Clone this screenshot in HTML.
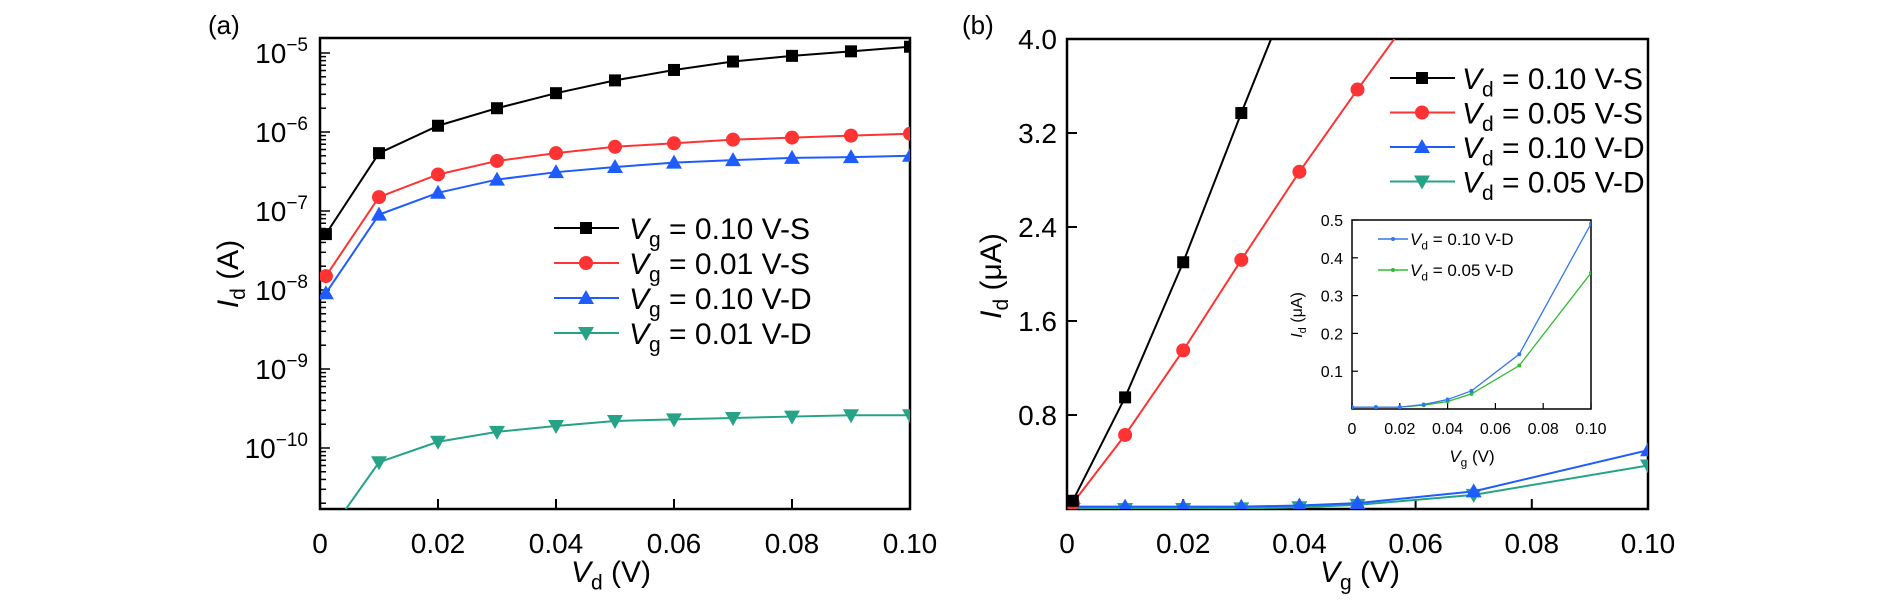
<!DOCTYPE html>
<html><head><meta charset="utf-8"><style>
body{margin:0;background:#fff;}
svg{display:block;font-family:"Liberation Sans",sans-serif;}
text{fill:#000;}
</style></head><body>
<svg id="fig" width="1890" height="601" viewBox="0 0 1890 601" xmlns="http://www.w3.org/2000/svg">
<defs>
<clipPath id="clipA"><rect x="320" y="38" width="590" height="471"/></clipPath>
<clipPath id="clipB"><rect x="1067" y="39" width="581" height="470"/></clipPath>
<clipPath id="clipI"><rect x="1352" y="220" width="239" height="189"/></clipPath>
</defs>
<g id="gA"></g>
<g id="gB"></g>
<g id="gI"></g>
</svg>
<script>
// Panel (a) data
const aX = [0.001,0.01,0.02,0.03,0.04,0.05,0.06,0.07,0.08,0.09,0.10];
const aBlackS = [5.1e-8,5.4e-7,1.2e-6,2.0e-6,3.1e-6,4.5e-6,6.1e-6,7.8e-6,9.2e-6,1.05e-5,1.2e-5];
const aRedS = [1.5e-8,1.5e-7,2.9e-7,4.3e-7,5.4e-7,6.5e-7,7.2e-7,8.0e-7,8.5e-7,9.0e-7,9.5e-7];
const aBlueD = [9.1e-9,9e-8,1.7e-7,2.5e-7,3.1e-7,3.6e-7,4.1e-7,4.4e-7,4.7e-7,4.8e-7,5.0e-7];
const aGreenD = [7.4e-12,6.6e-11,1.2e-10,1.6e-10,1.9e-10,2.2e-10,2.3e-10,2.4e-10,2.5e-10,2.6e-10,2.6e-10];
const aXTicks = [0,0.02,0.04,0.06,0.08,0.10];
const aXTickLabels = ["0","0.02","0.04","0.06","0.08","0.10"];
const aYExps = [-5,-6,-7,-8,-9,-10];
// Panel (b) data
const bX = [0.001,0.01,0.02,0.03,0.04];
const bBlackS = [0.07,0.95,2.1,3.37,4.6];
const bXRed = [0.001,0.01,0.02,0.03,0.04,0.05,0.06];
const bRedS = [0.05,0.63,1.35,2.12,2.87,3.57,4.25];
const bXD = [0.001,0.01,0.02,0.03,0.04,0.05,0.07,0.10];
const bBlueD = [0.02,0.02,0.02,0.02,0.03,0.05,0.15,0.5];
const bGreenD = [0.0,0.0,0.0,0.005,0.015,0.035,0.12,0.37];
const bXTicks = [0,0.02,0.04,0.06,0.08,0.10];
const bXTickLabels = ["0","0.02","0.04","0.06","0.08","0.10"];
const bYTicks = [0.8,1.6,2.4,3.2,4.0];
const bYTickLabels = ["0.8","1.6","2.4","3.2","4.0"];
// Inset data
const iX = [0,0.01,0.02,0.03,0.04,0.05,0.07,0.10];
const iBlue = [0.005,0.005,0.005,0.012,0.025,0.048,0.145,0.49];
const iGreen = [0.005,0.005,0.005,0.01,0.02,0.04,0.115,0.36];
const iXTicks = [0,0.02,0.04,0.06,0.08,0.10];
const iXTickLabels = ["0","0.02","0.04","0.06","0.08","0.10"];
const iYTicks = [0.1,0.2,0.3,0.4,0.5];
const iYTickLabels = ["0.1","0.2","0.3","0.4","0.5"];

const NS="http://www.w3.org/2000/svg";
function mk(tag, attrs, parent){const e=document.createElementNS(NS,tag);for(const k in attrs)e.setAttribute(k,attrs[k]);parent.appendChild(e);return e;}

const BLACK="#000", RED="#ff3333", BLUE="#1f5cff", GREEN="#26a387";

function marker(g, type, x, y, color, s){
  let m;
  if(type==="sq"){m=mk("rect",{x:x-s,y:y-s,width:2*s,height:2*s,fill:color},g);}
  else if(type==="ci"){m=mk("circle",{cx:x,cy:y,r:s+1,fill:color},g);}
  else if(type==="up"){m=mk("polygon",{points:`${x},${y-s-2} ${x+s+2},${y+s} ${x-s-2},${y+s}`,fill:color},g);}
  else if(type==="dn"){m=mk("polygon",{points:`${x},${y+s+2} ${x+s+2},${y-s} ${x-s-2},${y-s}`,fill:color},g);}
  else {m=mk("circle",{cx:x,cy:y,r:s,fill:color},g);}
  
  
  return m;
}
function series(g, xs, ys, sx, sy, color, type, s, lw, clip, name){
  const sg=mk("g",{"clip-path":`url(#${clip})`},g);
  
  
  const pts=xs.map((x,i)=>`${sx(x)},${sy(ys[i])}`).join(" ");
  const pl=mk("polyline",{points:pts,fill:"none",stroke:color,"stroke-width":lw},sg);
  
  
  xs.forEach((x,i)=>marker(sg,type,sx(x),sy(ys[i]),color,s));
}
function txt(g, x, y, str, size, anchor, name){
  const t=mk("text",{x:x,y:y,"font-size":size,"text-anchor":anchor||"start"},g);
  t.textContent=str;
  
  
  return t;
}
function richLabel(g,x,y,main,sub,rest,size,anchor,name){
  const t=mk("text",{x:x,y:y,"font-size":size,"text-anchor":anchor||"start"},g);
  
  
  const a=mk("tspan",{"font-style":"italic"},t);a.textContent=main;
  const b=mk("tspan",{"font-size":size*0.7,dy:size*0.25},t);b.textContent=sub;
  const c=mk("tspan",{dy:-size*0.25},t);c.textContent=rest;
  return t;
}

// ---------- Panel A ----------
const gA=document.getElementById("gA");
const aL=320,aR=910,aT=38,aB=509;
const axA=x=>aL+(x-0)/0.10*(aR-aL);
const LOG_TOP=-5+(53-aT)/79, LOG_BOT=-5-(aB-53)/79;
const ayA=v=>aT+(LOG_TOP-Math.log10(v))/(LOG_TOP-LOG_BOT)*(aB-aT);
txt(gA,208,34,"(a)",26,"start","panel-label-a");
const boxA=mk("rect",{x:aL,y:aT,width:aR-aL,height:aB-aT,fill:"none",stroke:"#000","stroke-width":2.5},gA);

aXTicks.forEach((t,i)=>{
  const x=axA(t);
  mk("line",{x1:x,y1:aB,x2:x,y2:aB-10,stroke:"#000","stroke-width":2},gA);
  txt(gA,x,553,aXTickLabels[i],28,"middle","x-tick-label-a");
});
for(let e=-11;e<=-5;e++){
  for(let m=1;m<10;m++){
    const v=m*Math.pow(10,e);const y=ayA(v);
    if(y<aT-0.5||y>aB+0.5)continue;
    mk("line",{x1:aL,y1:y,x2:aL+(m===1?10:6),y2:y,stroke:"#000","stroke-width":1.5},gA);
  }
}
aYExps.forEach(e=>{
  const y=ayA(Math.pow(10,e));
  const t=mk("text",{x:308,y:y+10,"font-size":28,"text-anchor":"end"},gA);
  
  const a=mk("tspan",{},t);a.textContent="10";
  const b=mk("tspan",{"font-size":19,dy:-12},t);b.textContent="\u2212"+(-e);
});
series(gA,aX,aGreenD,axA,ayA,GREEN,"dn",6,2,"clipA","series-vg001-d");
series(gA,aX,aBlueD,axA,ayA,BLUE,"up",6,2,"clipA","series-vg010-d");
series(gA,aX,aRedS,axA,ayA,RED,"ci",6,2,"clipA","series-vg001-s");
series(gA,aX,aBlackS,axA,ayA,BLACK,"sq",6,2,"clipA","series-vg010-s");
const ylA=mk("text",{x:0,y:0,"font-size":30,"text-anchor":"middle",transform:"translate(238,274) rotate(-90)"},gA);

{const a=mk("tspan",{"font-style":"italic"},ylA);a.textContent="I";const b=mk("tspan",{"font-size":21,dy:7},ylA);b.textContent="d";const c=mk("tspan",{dy:-7},ylA);c.textContent=" (A)";}
richLabel(gA,611,582,"V","d"," (V)",30,"middle","x-axis-title-a");
const legA=mk("g",{},gA);
const legAItems=[["0.10 V-S",BLACK,"sq"],["0.01 V-S",RED,"ci"],["0.10 V-D",BLUE,"up"],["0.01 V-D",GREEN,"dn"]];
legAItems.forEach((it,i)=>{
  const y=228+i*35;
  const eg=mk("g",{},legA);
  mk("line",{x1:554,y1:y,x2:619,y2:y,stroke:it[1],"stroke-width":2},eg);
  marker(eg,it[2],586,y,it[1],6);
  richLabel(eg,629,y+11,"V","g"," = "+it[0],30,"start","legend-text");
});

// ---------- Panel B ----------
const gB=document.getElementById("gB");
const bL=1067,bR=1648,bT=39,bB=509;
const axB=x=>bL+x/0.10*(bR-bL);
const ayB=v=>bB-v/4.0*(bB-bT);
txt(gB,962,34,"(b)",26,"start","panel-label-b");
const boxB=mk("rect",{x:bL,y:bT,width:bR-bL,height:bB-bT,fill:"none",stroke:"#000","stroke-width":2.5},gB);

bXTicks.forEach((t,i)=>{
  const x=axB(t);
  mk("line",{x1:x,y1:bB,x2:x,y2:bB-10,stroke:"#000","stroke-width":2},gB);
  txt(gB,x,553,bXTickLabels[i],28,"middle","x-tick-label-b");
});
bYTicks.forEach((t,i)=>{
  const y=ayB(t);
  mk("line",{x1:bL,y1:y,x2:bL+10,y2:y,stroke:"#000","stroke-width":2},gB);
  txt(gB,1057,y+10,bYTickLabels[i],28,"end","y-tick-label-b");
});
series(gB,bXD,bGreenD,axB,ayB,GREEN,"dn",6,2,"clipB","series-vd005-d");
series(gB,bXD,bBlueD,axB,ayB,BLUE,"up",6,2,"clipB","series-vd010-d");
series(gB,bXRed,bRedS,axB,ayB,RED,"ci",6,2,"clipB","series-vd005-s");
series(gB,bX,bBlackS,axB,ayB,BLACK,"sq",6,2,"clipB","series-vd010-s");
const ylB=mk("text",{x:0,y:0,"font-size":30,"text-anchor":"middle",transform:"translate(1001,276) rotate(-90)"},gB);

{const a=mk("tspan",{"font-style":"italic"},ylB);a.textContent="I";const b=mk("tspan",{"font-size":21,dy:7},ylB);b.textContent="d";const c=mk("tspan",{dy:-7},ylB);c.textContent=" (\u03bcA)";}
richLabel(gB,1360,582,"V","g"," (V)",30,"middle","x-axis-title-b");
const legB=mk("g",{},gB);
const legBItems=[["0.10 V-S",BLACK,"sq"],["0.05 V-S",RED,"ci"],["0.10 V-D",BLUE,"up"],["0.05 V-D",GREEN,"dn"]];
legBItems.forEach((it,i)=>{
  const y=78+i*34.5;
  const eg=mk("g",{},legB);
  mk("line",{x1:1390,y1:y,x2:1455,y2:y,stroke:it[1],"stroke-width":2},eg);
  marker(eg,it[2],1422,y,it[1],6);
  richLabel(eg,1462,y+11,"V","d"," = "+it[0],30,"start","legend-text");
});

// ---------- Inset ----------
const gI=document.getElementById("gI");
const iL=1352,iR=1591,iT=220,iB=409;
const axI=x=>iL+x/0.10*(iR-iL);
const ayI=v=>iB-v/0.5*(iB-iT);
const boxI=mk("rect",{x:iL,y:iT,width:iR-iL,height:iB-iT,fill:"#fff",stroke:"#000","stroke-width":1.5},gI);

iXTicks.forEach((t,i)=>{
  const x=axI(t);
  mk("line",{x1:x,y1:iB,x2:x,y2:iB-6,stroke:"#000","stroke-width":1.2},gI);
  txt(gI,x,434,iXTickLabels[i],16,"middle","inset-x-tick-label");
});
iYTicks.forEach((t,i)=>{
  const y=ayI(t);
  mk("line",{x1:iL,y1:y,x2:iL+6,y2:y,stroke:"#000","stroke-width":1.2},gI);
  txt(gI,1343,y+6,iYTickLabels[i],16,"end","inset-y-tick-label");
});
series(gI,iX,iGreen,axI,ayI,"#33bb33","dot",2,1.3,"clipI","inset-series-vd005-d");
series(gI,iX,iBlue,axI,ayI,"#3377ee","dot",2,1.3,"clipI","inset-series-vd010-d");
const ylI=mk("text",{x:0,y:0,"font-size":16,"text-anchor":"middle",transform:"translate(1302,315) rotate(-90)"},gI);

{const a=mk("tspan",{"font-style":"italic"},ylI);a.textContent="I";const b=mk("tspan",{"font-size":11,dy:4},ylI);b.textContent="d";const c=mk("tspan",{dy:-4},ylI);c.textContent=" (\u03bcA)";}
richLabel(gI,1472,462,"V","g"," (V)",17,"middle","inset-x-axis-title");
const legI=[["0.10 V-D","#3377ee"],["0.05 V-D","#33bb33"]];
legI.forEach((it,i)=>{
  const y=239+i*31;
  const eg=mk("g",{},gI);
  mk("line",{x1:1378,y1:y,x2:1408,y2:y,stroke:it[1],"stroke-width":1.5},eg);
  marker(eg,"dot",1393,y,it[1],2);
  richLabel(eg,1410,y+6,"V","d"," = "+it[0],17,"start","inset-legend-text");
});
</script>
</body></html>
